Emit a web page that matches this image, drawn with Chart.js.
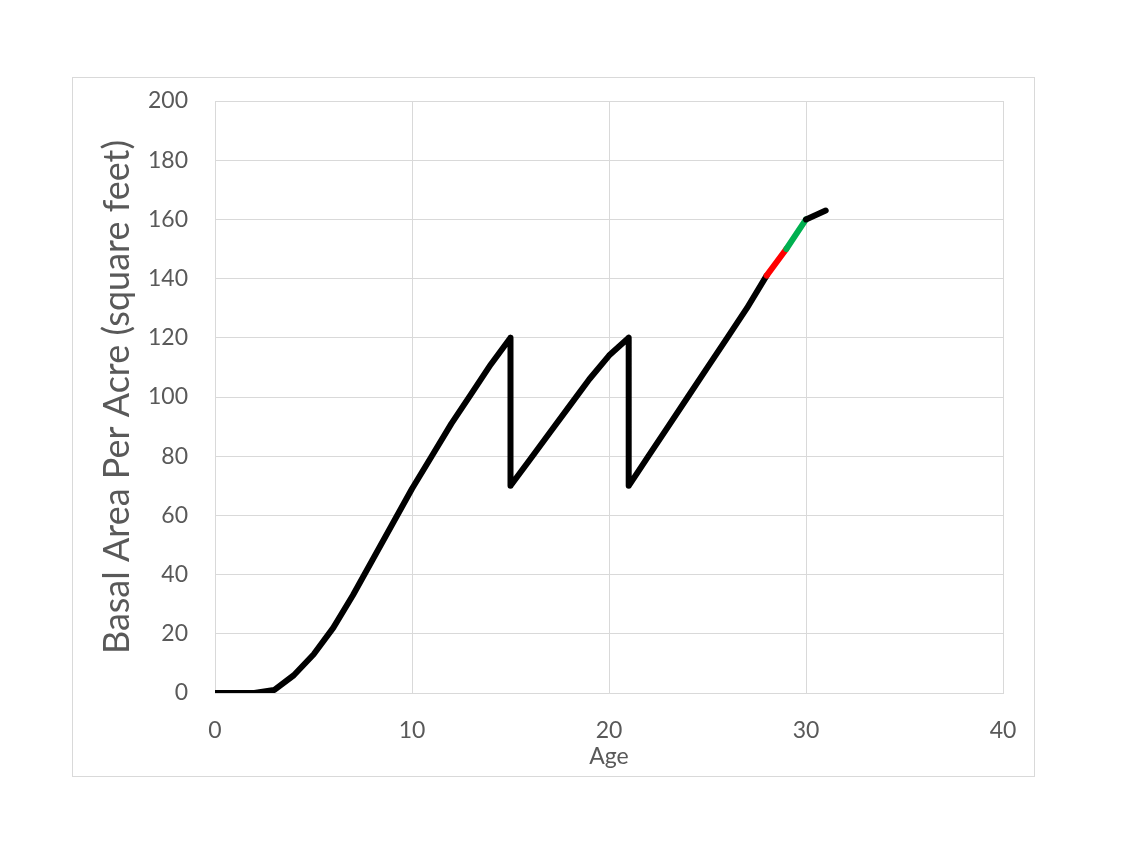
<!DOCTYPE html>
<html>
<head>
<meta charset="utf-8">
<script src="https://cdn.jsdelivr.net/npm/chart.js@4"></script>
<style>
  html, body { margin: 0; padding: 0; background: #fff; }
  #wrap { position: relative; width: 1122px; height: 867px; }
  #frame { position: absolute; left: 72px; top: 77px; width: 961px; height: 698px; border: 1px solid #d9d9d9; }
  canvas { position: absolute; left: 0; top: 0; }
</style>
</head>
<body>
<div id="wrap">
  <div id="frame"></div>
  <canvas id="myChart" width="1122" height="867"></canvas>
</div>
<script>
/* Data */
const ages = [0, 1, 2, 3, 4, 5, 6, 7, 8, 9, 10, 11, 12, 13, 14, 15, 15, 16, 17, 18, 19, 20, 21, 21, 22, 23, 24, 25, 26, 27, 28, 29, 30, 31];
const basalArea = [0, 0, 0, 1, 6, 13, 22, 33, 45, 57, 69, 80, 91, 101, 111, 120, 70, 79, 88, 97, 106, 114, 120, 70, 80, 90, 100, 110, 120, 130, 141, 150, 160, 163];
const xTicks = [0, 10, 20, 30, 40];
const yTicks = [0, 20, 40, 60, 80, 100, 120, 140, 160, 180, 200];
// segment colours: start age of segment -> colour
const redFrom = 28;
const greenFrom = 29;

const textColor = '#595959';
const gridColor = '#d9d9d9';

const points = ages.map(function (a, i) {
  return { x: a, y: basalArea[i] };
});

var ctx = document.getElementById('myChart').getContext('2d');

// eslint-disable-next-line no-undef
var chart = new Chart(ctx, {
  type: 'line',
  data: {
    datasets: [{
      data: points,
      borderColor: '#000000',
      borderWidth: 6,
      borderJoinStyle: 'round',
      borderCapStyle: 'round',
      pointRadius: 0,
      tension: 0,
      segment: {
        borderColor: function (c) {
          const a = c.p0.parsed.x;
          const b = c.p1.parsed.x;
          if (a === redFrom && b === redFrom + 1) return '#ff0000';
          if (a === greenFrom && b === greenFrom + 1) return '#00b050';
          return '#000000';
        }
      }
    }]
  },
  options: {
    responsive: false,
    animation: false,
    layout: { padding: { left: 82, top: 101, right: 119, bottom: 84 } },
    plugins: { legend: { display: false }, tooltip: { enabled: false } },
    scales: {
      x: {
        type: 'linear',
        min: 0,
        max: 40,
        afterBuildTicks: function (s) { s.ticks = xTicks.map(function (v) { return { value: v }; }); },
        afterFit: function (s) { s.height = 90; },
        grid: { color: gridColor, drawTicks: false },
        border: { color: gridColor },
        ticks: { color: textColor, padding: 24, font: { family: 'Lato', size: 23 } },
        title: { display: true, text: 'Age', color: textColor, font: { family: 'Lato', size: 23 }, padding: { top: 0, bottom: 13 } }
      },
      y: {
        min: 0,
        max: 200,
        afterBuildTicks: function (s) { s.ticks = yTicks.map(function (v) { return { value: v }; }); },
        afterFit: function (s) { s.width = 133; },
        grid: { color: gridColor, drawTicks: false },
        border: { color: gridColor },
        ticks: { color: textColor, padding: 27, font: { family: 'Lato', size: 23 } },
        title: { display: true, text: 'Basal Area Per Acre (square feet)', color: textColor, font: { family: 'Lato', size: 36 }, padding: { top: 14, bottom: 0 } }
      }
    }
  }
});
</script>
</body>
</html>
